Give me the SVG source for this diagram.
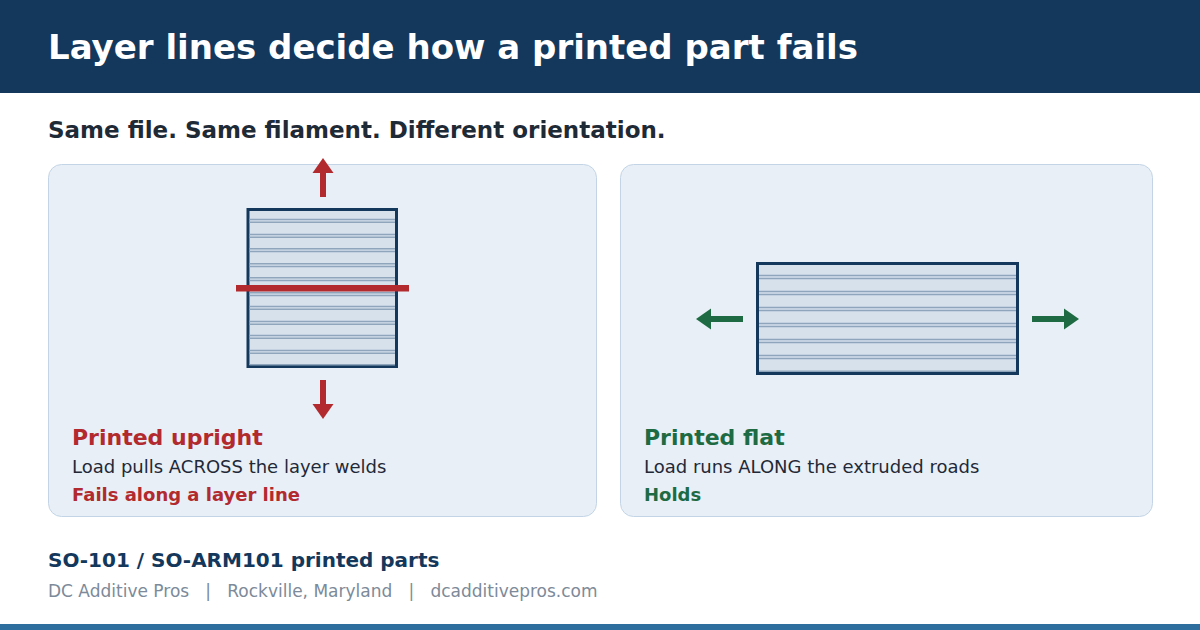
<svg xmlns="http://www.w3.org/2000/svg" width="1200" height="630" viewBox="0 0 1200 630">
<style>
text{font-family:"DejaVu Sans","Noto Sans",sans-serif}
.panel{fill:#e8eff7;stroke:#c3d4e6;stroke-width:1}
.part{fill:#d6e1ec;stroke:#13385c;stroke-width:3}
.layer{stroke:#8ea5bb;stroke-width:1.5}
.red{fill:#b22a2e}
.green{fill:#1e6b43}
.h{font-weight:bold;font-size:22px}
.body{font-size:18px;fill:#1f2937}
.b{font-weight:bold;font-size:18px}
</style>
<rect x="0" y="0" width="1200" height="93" fill="#13385c"/>
<text x="48" y="59" font-size="34" font-weight="bold" fill="#ffffff">Layer lines decide how a printed part fails</text>
<text x="48" y="138" font-size="23" font-weight="bold" fill="#1f2a37">Same file. Same filament. Different orientation.</text>

<g id="panel-upright">
<rect class="panel" x="48.5" y="164.5" width="548" height="352" rx="13"/>
<rect class="part" x="248" y="209.5" width="148.5" height="157"/>
<g class="layer">
<line x1="249.5" y1="219.5" x2="395" y2="219.5"/><line x1="249.5" y1="222.2" x2="395" y2="222.2"/>
<line x1="249.5" y1="234.5" x2="395" y2="234.5"/><line x1="249.5" y1="237.2" x2="395" y2="237.2"/>
<line x1="249.5" y1="248.8" x2="395" y2="248.8"/><line x1="249.5" y1="251.5" x2="395" y2="251.5"/>
<line x1="249.5" y1="263.8" x2="395" y2="263.8"/><line x1="249.5" y1="266.5" x2="395" y2="266.5"/>
<line x1="249.5" y1="277.8" x2="395" y2="277.8"/><line x1="249.5" y1="280.5" x2="395" y2="280.5"/>
<line x1="249.5" y1="292.8" x2="395" y2="292.8"/><line x1="249.5" y1="295.5" x2="395" y2="295.5"/>
<line x1="249.5" y1="306.5" x2="395" y2="306.5"/><line x1="249.5" y1="309.2" x2="395" y2="309.2"/>
<line x1="249.5" y1="321.5" x2="395" y2="321.5"/><line x1="249.5" y1="324.2" x2="395" y2="324.2"/>
<line x1="249.5" y1="335.5" x2="395" y2="335.5"/><line x1="249.5" y1="338.2" x2="395" y2="338.2"/>
<line x1="249.5" y1="350.5" x2="395" y2="350.5"/><line x1="249.5" y1="353.2" x2="395" y2="353.2"/>
<line x1="249.5" y1="364.8" x2="395" y2="364.8"/>
</g>
<rect class="red" x="236" y="285" width="173" height="6.5"/>
<g class="red">
<rect x="320" y="172" width="6" height="25"/>
<polygon points="323,158 333.5,173 312.5,173"/>
<rect x="320" y="380" width="6" height="25"/>
<polygon points="323,419 333.5,404 312.5,404"/>
</g>
<text class="h red" x="72" y="445">Printed upright</text>
<text class="body" x="72" y="473">Load pulls ACROSS the layer welds</text>
<text class="b red" x="72" y="501">Fails along a layer line</text>
</g>

<g id="panel-flat">
<rect class="panel" x="620.5" y="164.5" width="532" height="352" rx="13"/>
<rect class="part" x="757.5" y="263.5" width="260" height="110"/>
<g class="layer">
<line x1="759" y1="275.5" x2="1016" y2="275.5"/><line x1="759" y1="278.5" x2="1016" y2="278.5"/>
<line x1="759" y1="291.5" x2="1016" y2="291.5"/><line x1="759" y1="294.5" x2="1016" y2="294.5"/>
<line x1="759" y1="307.5" x2="1016" y2="307.5"/><line x1="759" y1="310.5" x2="1016" y2="310.5"/>
<line x1="759" y1="323.5" x2="1016" y2="323.5"/><line x1="759" y1="326.5" x2="1016" y2="326.5"/>
<line x1="759" y1="339.5" x2="1016" y2="339.5"/><line x1="759" y1="342.5" x2="1016" y2="342.5"/>
<line x1="759" y1="355.5" x2="1016" y2="355.5"/><line x1="759" y1="358.5" x2="1016" y2="358.5"/>
<line x1="759" y1="371.3" x2="1016" y2="371.3"/>
</g>
<g class="green">
<rect x="709" y="316" width="34" height="6"/>
<polygon points="696,319 711,308.5 711,329.5"/>
<rect x="1032" y="316" width="33" height="6"/>
<polygon points="1079,319 1064,308.5 1064,329.5"/>
</g>
<text class="h green" x="644" y="445">Printed flat</text>
<text class="body" x="644" y="473">Load runs ALONG the extruded roads</text>
<text class="b green" x="644" y="501">Holds</text>
</g>

<text x="48" y="567" font-size="20" font-weight="bold" fill="#13385c">SO-101 / SO-ARM101 printed parts</text>
<text x="48" y="597" font-size="17" fill="#7c8a99" xml:space="preserve">DC Additive Pros   |   Rockville, Maryland   |   dcadditivepros.com</text>
<rect x="0" y="624" width="1200" height="6" fill="#2e6e9e"/>
</svg>
